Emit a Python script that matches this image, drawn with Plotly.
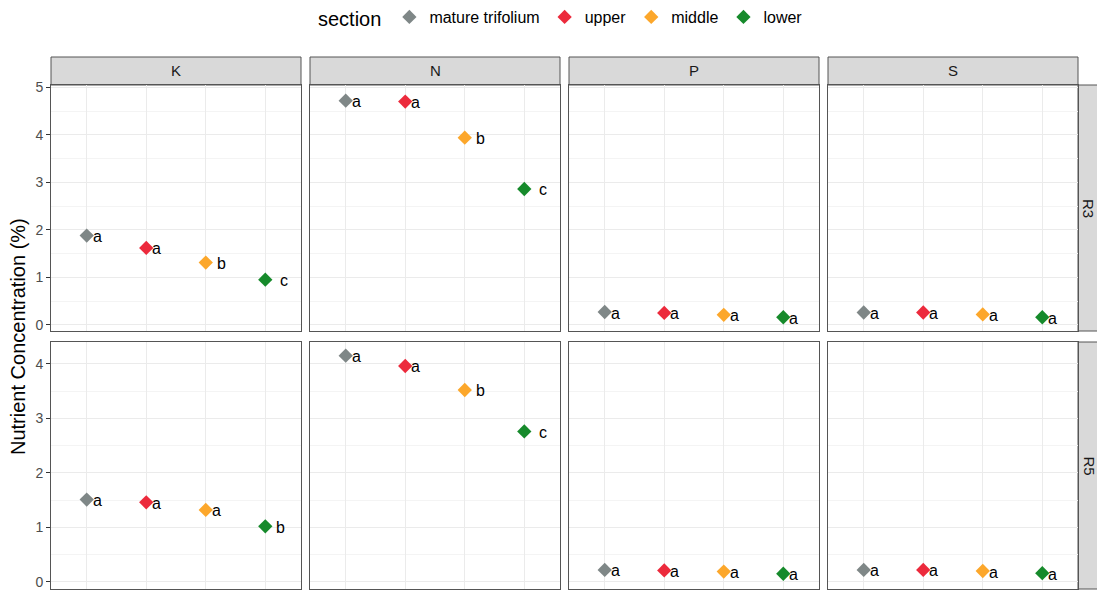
import plotly.graph_objects as go

# ---------------- data ----------------
sections = ["mature trifolium", "upper", "middle", "lower"]
nutrients = ["K", "N", "P", "S"]
stages = ["R3", "R5"]

K_R3 = [1.88, 1.62, 1.31, 0.95]
N_R3 = [4.72, 4.70, 3.94, 2.86]
P_R3 = [0.27, 0.25, 0.21, 0.16]
S_R3 = [0.26, 0.26, 0.22, 0.16]
K_R5 = [1.51, 1.46, 1.32, 1.02]
N_R5 = [4.15, 3.96, 3.52, 2.76]
P_R5 = [0.22, 0.21, 0.19, 0.15]
S_R5 = [0.22, 0.22, 0.20, 0.16]

K_R3_letters = ["a", "a", "b", "c"]
N_R3_letters = ["a", "a", "b", "c"]
P_R3_letters = ["a", "a", "a", "a"]
S_R3_letters = ["a", "a", "a", "a"]
K_R5_letters = ["a", "a", "a", "b"]
N_R5_letters = ["a", "a", "b", "c"]
P_R5_letters = ["a", "a", "a", "a"]
S_R5_letters = ["a", "a", "a", "a"]

values = {
    ("R3", "K"): K_R3, ("R3", "N"): N_R3, ("R3", "P"): P_R3, ("R3", "S"): S_R3,
    ("R5", "K"): K_R5, ("R5", "N"): N_R5, ("R5", "P"): P_R5, ("R5", "S"): S_R5,
}
letters = {
    ("R3", "K"): K_R3_letters, ("R3", "N"): N_R3_letters, ("R3", "P"): P_R3_letters, ("R3", "S"): S_R3_letters,
    ("R5", "K"): K_R5_letters, ("R5", "N"): N_R5_letters, ("R5", "P"): P_R5_letters, ("R5", "S"): S_R5_letters,
}

colors = {"mature trifolium": "#7f8787", "upper": "#ec2a3c", "middle": "#fca72b", "lower": "#168a2b"}

# ---------------- layout geometry (pixels) ----------------
W, H = 1097, 591
col_left = [51, 310, 569, 828]
panel_w = 250
row_top = [85, 342]
row_bot = [331, 589]
strip_top = 57
row_ranges = [[-0.13, 5.05], [-0.13, 4.40]]
letter_shift = {"a": 4, "b": 9, "c": 13}

def fx(px):
    return px / W

def fy(py):
    return 1 - py / H

fig = go.Figure()
annotations = []
shapes = []
FONT = "Liberation Sans, Arial, sans-serif"

for r, stage in enumerate(stages):
    for c, nut in enumerate(nutrients):
        idx = r * 4 + c + 1
        sfx = "" if idx == 1 else str(idx)
        xref, yref = "x" + sfx, "y" + sfx
        vals = values[(stage, nut)]
        for i, sec in enumerate(sections):
            fig.add_trace(go.Scatter(
                x=[sec], y=[vals[i]], mode="markers", xaxis=xref, yaxis=yref,
                name=sec, legendgroup=sec, showlegend=(idx == 1),
                marker=dict(symbol="diamond", size=11, color=colors[sec]),
                hoverinfo="skip",
            ))
            lt = letters[(stage, nut)][i]
            annotations.append(dict(
                x=sec, y=vals[i], xref=xref, yref=yref, text=lt, showarrow=False,
                xanchor="left", yanchor="middle", xshift=letter_shift[lt], yshift=-1,
                font=dict(size=16, color="#000000", family=FONT),
            ))
        l = col_left[c]
        fig.layout["xaxis" + sfx] = dict(
            domain=[fx(l), fx(l + panel_w)], anchor=yref, automargin=False,
            type="category", categoryorder="array", categoryarray=sections,
            range=[-0.6, 3.6], showticklabels=False, ticks="",
            showgrid=True, gridcolor="#EBEBEB", gridwidth=1,
            showline=True, mirror=True, linecolor="#555555", linewidth=1,
            zeroline=False, fixedrange=True,
        )
        fig.layout["yaxis" + sfx] = dict(
            domain=[fy(row_bot[r]), fy(row_top[r])], anchor=xref, automargin=False,
            range=row_ranges[r], tick0=0, dtick=1,
            showticklabels=(c == 0), ticks="outside" if c == 0 else "",
            ticklen=4, tickcolor="#333333", tickwidth=1,
            tickfont=dict(size=14, color="#4D4D4D", family=FONT),
            showgrid=True, gridcolor="#EBEBEB", gridwidth=1,
            minor=dict(tick0=0.5, dtick=1, showgrid=True, gridcolor="#F4F4F4", gridwidth=0.6),
            showline=True, mirror=True, linecolor="#555555", linewidth=1,
            zeroline=False, fixedrange=True,
        )
        if r == 0:
            shapes.append(dict(type="rect", xref="paper", yref="paper",
                               x0=fx(l), x1=fx(l + panel_w), y0=fy(row_top[0]), y1=fy(strip_top),
                               fillcolor="#D9D9D9", line=dict(color="#555555", width=1), layer="below"))
            annotations.append(dict(x=fx(l + panel_w / 2), y=fy((strip_top + row_top[0]) / 2),
                                    xref="paper", yref="paper", text=nut, showarrow=False,
                                    xanchor="center", yanchor="middle",
                                    font=dict(size=15, color="#1A1A1A", family=FONT)))
    # right strip
    shapes.append(dict(type="rect", xref="paper", yref="paper",
                       x0=fx(1078), x1=fx(1106), y0=fy(row_bot[r]), y1=fy(row_top[r]),
                       fillcolor="#D9D9D9", line=dict(color="#555555", width=1), layer="below"))
    annotations.append(dict(x=fx(1089), y=fy((row_top[r] + row_bot[r]) / 2),
                            xref="paper", yref="paper", text=stage, showarrow=False, textangle=90,
                            xanchor="center", yanchor="middle",
                            font=dict(size=15, color="#1A1A1A", family=FONT)))

annotations.append(dict(x=fx(18), y=fy((row_top[0] + row_bot[1]) / 2), xref="paper", yref="paper",
                        text="Nutrient Concentration (%)", showarrow=False, textangle=-90,
                        xanchor="center", yanchor="middle",
                        font=dict(size=20, color="#000000", family=FONT)))

fig.update_layout(
    width=W, height=H, margin=dict(l=0, r=0, t=0, b=0, autoexpand=False),
    paper_bgcolor="white", plot_bgcolor="white",
    font=dict(family=FONT),
    annotations=annotations, shapes=shapes,
    legend=dict(orientation="h", x=fx(316), y=1.0, xanchor="left", yanchor="top",
                title=dict(text="section", font=dict(size=20, color="#000000", family=FONT)),
                font=dict(size=16, color="#000000", family=FONT), bgcolor="rgba(0,0,0,0)"),
)

fig.write_html("out.html")
